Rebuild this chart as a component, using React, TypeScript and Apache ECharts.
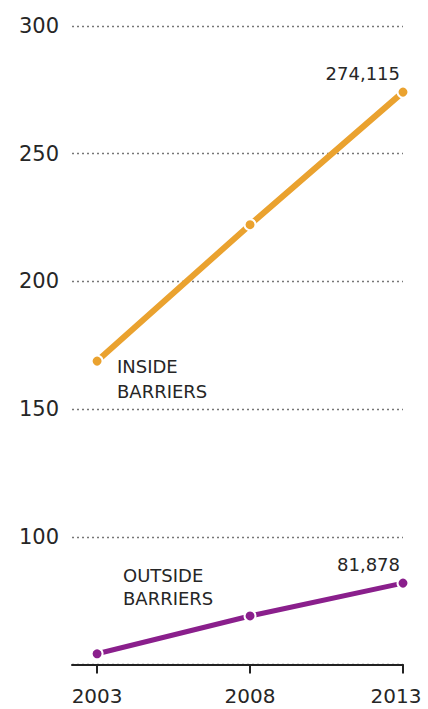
import React, { useEffect, useRef } from "react";
import * as echarts from "echarts";

const years = [2003, 2008, 2013];
const insideValues = [168.8, 222.2, 274.115];
const outsideValues = [54.2, 69.0, 81.878];
const insideLabels = ["", "", "274,115"];
const outsideLabels = ["", "", "81,878"];
const yTicks = [100, 150, 200, 250, 300];

const FONT = "DejaVu Sans";
const ORANGE = "#EAA22F";
const PURPLE = "#8A1F8C";
const TEXT = "#262626";

export default function App() {
  const ref = useRef<HTMLDivElement>(null);
  useEffect(() => {
    if (!ref.current) return;
    const chart = echarts.init(ref.current, undefined, { renderer: "svg" });
    const mk = (vals: number[], labels: string[], color: string, width: number) => ({
      type: "line",
      data: years.map((y, i) => [y, vals[i]]),
      lineStyle: { color, width },
      itemStyle: { color, borderColor: "#fff", borderWidth: 2 },
      symbol: "circle",
      symbolSize: 11,
      showAllSymbol: true,
      z: 3,
      label: {
        show: true,
        position: "top",
        align: "right",
        distance: 3,
        offset: [-3, 0],
        fontFamily: FONT,
        fontSize: 18,
        color: TEXT,
        formatter: (p: any) => labels[p.dataIndex],
      },
    });
    const lastYear = years[years.length - 1];
    chart.setOption({
      animation: false,
      backgroundColor: "#fff",
      grid: { left: 72, right: 25, top: 26, bottom: 44.5, containLabel: false, outerBoundsMode: "none" },
      xAxis: {
        type: "value",
        min: 2002.18,
        max: 2013,
        axisLine: { show: true, lineStyle: { color: "#222", width: 2 } },
        axisTick: {
          show: true,
          customValues: years,
          length: 9,
          lineStyle: { color: "#222", width: 2 },
        },
        axisLabel: {
          customValues: years,
          fontFamily: FONT,
          fontSize: 20,
          color: TEXT,
          margin: 21,
          formatter: (v: number) => (v === lastYear ? `{last|${v}}` : String(v)),
          rich: {
            last: { fontFamily: FONT, fontSize: 20, color: TEXT, padding: [0, 14, 0, 0] },
          },
        },
        splitLine: { show: false },
      },
      yAxis: {
        type: "value",
        min: 50,
        max: 300,
        interval: 50,
        axisLine: { show: false },
        axisTick: { show: false },
        axisLabel: {
          fontFamily: FONT,
          fontSize: 21,
          color: TEXT,
          margin: 13,
          formatter: (v: number) => (yTicks.includes(v) ? String(v) : ""),
        },
        splitLine: {
          show: true,
          lineStyle: { color: "#777", type: [2, 3], width: 1.3 },
        },
      },
      graphic: [
        {
          type: "text",
          left: 117,
          top: 354,
          style: {
            text: "INSIDE\nBARRIERS",
            fontFamily: FONT,
            fontSize: 18,
            lineHeight: 25,
            fill: TEXT,
          },
        },
        {
          type: "text",
          left: 123,
          top: 564,
          style: {
            text: "OUTSIDE\nBARRIERS",
            fontFamily: FONT,
            fontSize: 18,
            lineHeight: 23,
            fill: TEXT,
          },
        },
      ],
      series: [
        mk(insideValues, insideLabels, ORANGE, 6),
        mk(outsideValues, outsideLabels, PURPLE, 5),
      ],
    });
    return () => chart.dispose();
  }, []);
  return (
    <div
      ref={ref}
      style={{ position: "fixed", left: 0, top: 0, width: 428, height: 709, background: "#fff" }}
    />
  );
}
